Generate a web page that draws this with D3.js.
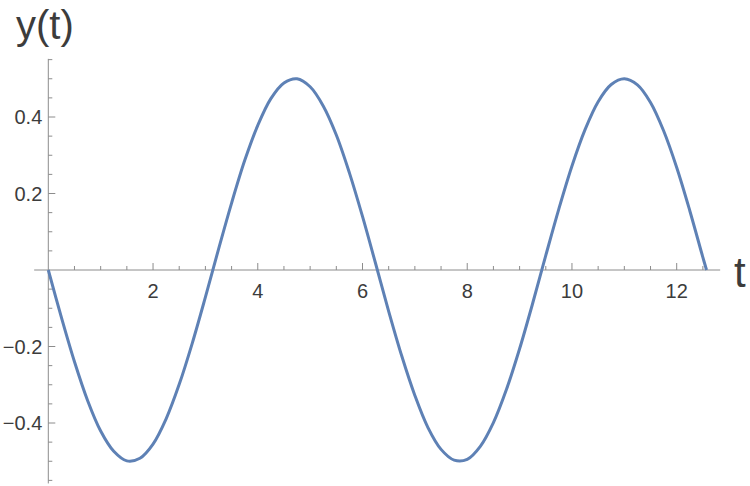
<!DOCTYPE html>
<html><head><meta charset="utf-8">
<script src="https://cdn.jsdelivr.net/npm/d3@7"></script>
<style>body{margin:0;background:#fff;}svg{display:block;}</style>
</head><body>
<svg id="c" width="750" height="486"></svg>
<script>
const tValues = [0,0.25,0.5,0.75,1,1.25,1.5,1.75,2,2.25,2.5,2.75,3,3.25,3.5,3.75,4,4.25,4.5,4.75,5,5.25,5.5,5.75,6,6.25,6.5,6.75,7,7.25,7.5,7.75,8,8.25,8.5,8.75,9,9.25,9.5,9.75,10,10.25,10.5,10.75,11,11.25,11.5,11.75,12,12.25,12.5,12.57];
const yValues = [0,-0.124,-0.240,-0.341,-0.421,-0.474,-0.499,-0.492,-0.455,-0.389,-0.299,-0.191,-0.071,0.054,0.175,0.286,0.378,0.448,0.489,0.500,0.479,0.429,0.353,0.254,0.140,0.017,-0.108,-0.225,-0.328,-0.412,-0.469,-0.497,-0.495,-0.461,-0.399,-0.312,-0.206,-0.087,0.038,0.160,0.272,0.367,0.440,0.485,0.500,0.484,0.438,0.364,0.268,0.155,0.033,0];
const xTicks = [2,4,6,8,10,12];
const yTicks = [-0.4,-0.2,0.2,0.4];
const xLabel = "t";
const yLabel = "y(t)";

const svg = d3.select("#c");
const x = d3.scaleLinear().domain([0,12]).range([48.3,676.7]);
const y = d3.scaleLinear().domain([0,0.4]).range([270,117]);
const axisCol = "#8c8c8c", txtCol = "#3c3c3c";

svg.append("line").attr("x1",x(-0.27)).attr("x2",x(12.83)).attr("y1",y(0)).attr("y2",y(0))
  .attr("stroke",axisCol).attr("stroke-width",1);
svg.append("line").attr("x1",x(0)).attr("x2",x(0)).attr("y1",y(0.552)).attr("y2",y(-0.558))
  .attr("stroke",axisCol).attr("stroke-width",1);

const xMinor = d3.range(1,26).map(i=>i*0.5);
svg.selectAll(".xm").data(xMinor).enter().append("line")
  .attr("x1",d=>x(d)).attr("x2",d=>x(d)).attr("y1",y(0))
  .attr("y2",d=>y(0)-(xTicks.includes(d)?7:4))
  .attr("stroke",axisCol);
const yMinor = d3.range(-11,12).filter(i=>i!==0).map(i=>i*0.05);
svg.selectAll(".ym").data(yMinor).enter().append("line")
  .attr("x1",x(0)).attr("x2",d=>x(0)+(yTicks.some(t=>Math.abs(t-d)<1e-9)?7:4))
  .attr("y1",d=>y(d)).attr("y2",d=>y(d))
  .attr("stroke",axisCol);

const font = "'Liberation Sans', Arial, sans-serif";
svg.selectAll(".xl").data(xTicks).enter().append("text")
  .attr("x",d=>x(d)).attr("y",y(0)+27.5).attr("text-anchor","middle")
  .attr("font-family",font).attr("font-size",20).attr("fill",txtCol).text(d=>d);
svg.selectAll(".yl").data(yTicks).enter().append("text")
  .attr("x",x(0)-6).attr("y",d=>y(d)+7).attr("text-anchor","end")
  .attr("font-family",font).attr("font-size",20).attr("fill",txtCol)
  .text(d=>d3.format(".1f")(d).replace("-","\u2212"));

svg.append("text").attr("x",16).attr("y",39).attr("font-family",font).attr("font-size",40)
  .attr("fill",txtCol).text(yLabel);
svg.append("text").attr("x",734).attr("y",287).attr("font-family",font).attr("font-size",42)
  .attr("fill",txtCol).text(xLabel);

const pts = tValues.map((t,i)=>[t,yValues[i]]);
const line = d3.line().x(d=>x(d[0])).y(d=>y(d[1])).curve(d3.curveCatmullRom);
svg.append("path").datum(pts).attr("d",line).attr("fill","none")
  .attr("stroke","#5e81b5").attr("stroke-width",3).attr("stroke-linejoin","round");
</script>
</body></html>
